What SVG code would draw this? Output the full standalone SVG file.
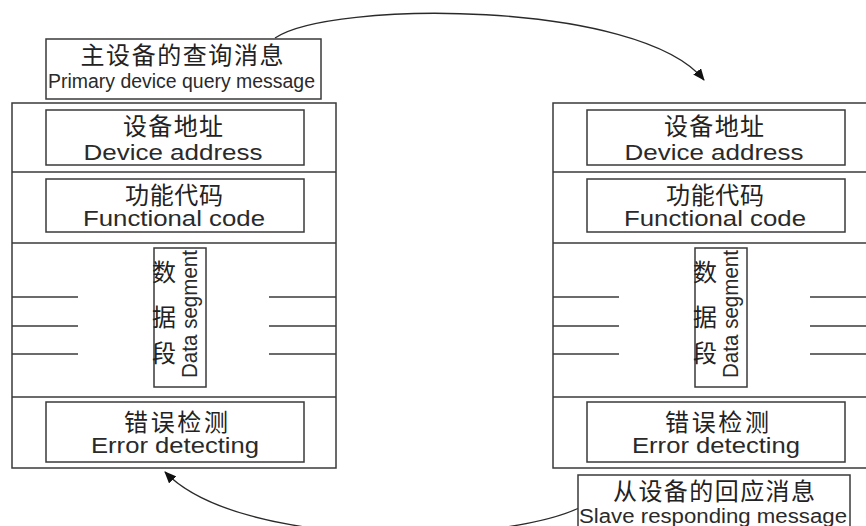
<svg xmlns="http://www.w3.org/2000/svg" width="866" height="526" viewBox="0 0 866 526">
<style>
  .frame{fill:none;stroke:#3a3a3a;stroke-width:1.5}
  .box{fill:#fff;stroke:#3a3a3a;stroke-width:1.5}
  .hl{stroke:#3a3a3a;stroke-width:1.5}
  .cn{font-family:"Noto Sans CJK SC","Noto Sans",sans-serif;font-size:24px;fill:#222;text-anchor:middle}
  .en{font-family:"Liberation Sans",Arial,sans-serif;font-size:21.5px;fill:#2a2a2a;text-anchor:middle}
  .lbl{font-family:"Liberation Sans",Arial,sans-serif;font-size:20px;fill:#2a2a2a;text-anchor:middle}
  .conn{fill:none;stroke:#2a2a2a;stroke-width:1.3}
</style>
<defs>
  <marker id="ah" viewBox="0 0 12 10" refX="11" refY="5" markerWidth="12" markerHeight="10" markerUnits="userSpaceOnUse" orient="auto">
    <path d="M0,0 L12,5 L0,10 Z" fill="#111"/>
  </marker>
  <g id="panel">
    <rect class="frame" x="12" y="103" width="324" height="365"/>
    <line class="hl" x1="12" y1="172" x2="336" y2="172"/>
    <line class="hl" x1="12" y1="243" x2="336" y2="243"/>
    <line class="hl" x1="12" y1="397" x2="336" y2="397"/>
    <line class="hl" x1="12" y1="297" x2="78" y2="297"/>
    <line class="hl" x1="12" y1="326" x2="78" y2="326"/>
    <line class="hl" x1="12" y1="354" x2="78" y2="354"/>
    <line class="hl" x1="269" y1="297" x2="336" y2="297"/>
    <line class="hl" x1="269" y1="326" x2="336" y2="326"/>
    <line class="hl" x1="269" y1="354" x2="336" y2="354"/>
    <g>
      <rect class="box" x="46" y="110" width="258" height="55"/>
      <text class="cn" x="173" y="135" font-size="25" textLength="100" lengthAdjust="spacing">设备地址</text>
      <text class="en" x="173" y="160" textLength="179" lengthAdjust="spacingAndGlyphs">Device address</text>
    </g>
    <g>
      <rect class="box" x="46" y="179" width="258" height="53"/>
      <text class="cn" x="174" y="204" textLength="98" lengthAdjust="spacing">功能代码</text>
      <text class="en" x="174" y="226" textLength="182" lengthAdjust="spacingAndGlyphs">Functional code</text>
    </g>
    <g>
      <rect class="box" x="154" y="248" width="52" height="139"/>
      <text class="cn" x="164" y="281" font-size="20">数</text>
      <text class="cn" x="164" y="326" font-size="20">据</text>
      <text class="cn" x="164" y="362" font-size="20">段</text>
      <text class="en" transform="translate(196.5,378) rotate(-90)" style="text-anchor:start" font-size="20" textLength="128" lengthAdjust="spacingAndGlyphs">Data segment</text>
    </g>
    <g>
      <rect class="box" x="46" y="402" width="258" height="60"/>
      <text class="cn" x="176" y="431" font-size="25" textLength="104" lengthAdjust="spacing">错误检测</text>
      <text class="en" x="175" y="453" textLength="168" lengthAdjust="spacingAndGlyphs">Error detecting</text>
    </g>
  </g>
</defs>

<g id="connectors">
  <path class="conn" d="M275,38 C330,0 640,0 704,80" marker-end="url(#ah)"/>
  <path class="conn" d="M579,508 C500,545 240,550 165,472" marker-end="url(#ah)"/>
</g>

<g id="query-label">
  <rect class="box" x="46" y="39" width="275" height="60"/>
  <text class="cn" x="182" y="64" textLength="203" lengthAdjust="spacing">主设备的查询消息</text>
  <text class="lbl" x="181.5" y="87.5" textLength="267" lengthAdjust="spacingAndGlyphs">Primary device query message</text>
</g>

<g id="primary-frame">
  <use href="#panel"/>
</g>

<g id="slave-frame">
  <use href="#panel" transform="translate(541,0)"/>
</g>

<g id="response-label">
  <rect class="box" x="578" y="475" width="272" height="60"/>
  <text class="cn" x="714" y="500" textLength="202" lengthAdjust="spacing">从设备的回应消息</text>
  <text class="lbl" x="713" y="523" font-size="22" textLength="268" lengthAdjust="spacingAndGlyphs">Slave responding message</text>
</g>
</svg>
